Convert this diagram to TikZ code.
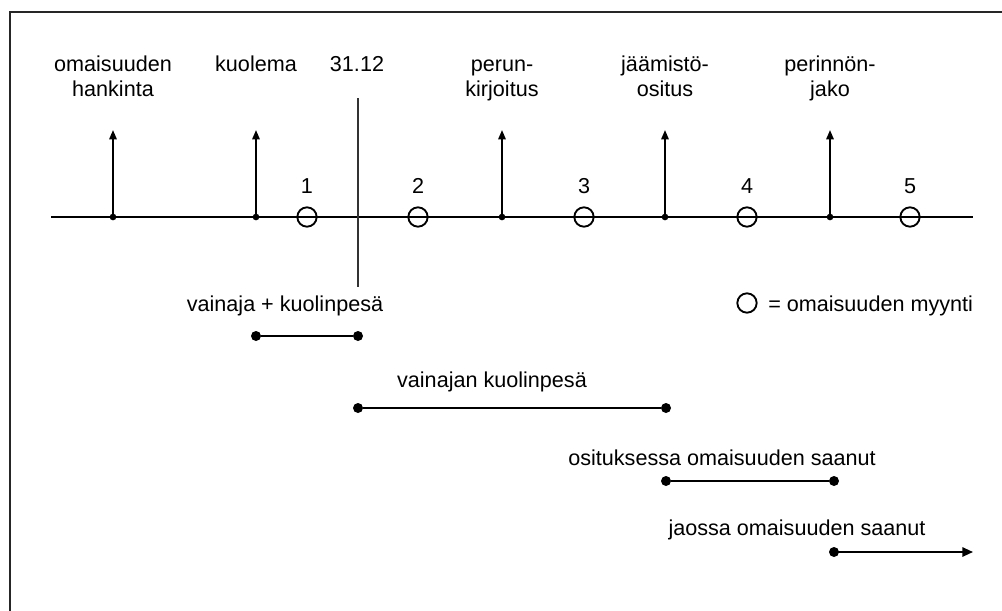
\documentclass[tikz,border=0pt]{standalone}
\usepackage{fontspec}
\setmainfont{Liberation Sans}
\usetikzlibrary{arrows.meta}
\newcommand{\lab}{\fontsize{16.2pt}{18.75pt}\selectfont}
\begin{document}
\begin{tikzpicture}[x=0.75pt, y=-0.75pt,
  lbl/.style={font=\lab, align=center, anchor=base, inner sep=0pt},
  lblw/.style={font=\lab, anchor=base west, inner sep=0pt},
  evdot/.style={circle, fill=black, inner sep=0pt, minimum size=5pt},
  enddot/.style={circle, fill=black, inner sep=0pt, minimum size=7.5pt},
  sale/.style={circle, draw=black, line width=1.4pt, inner sep=0pt, minimum size=14.5pt},
  timeline/.style={line width=2.2pt},
  uparrow/.style={line width=1.4pt, -{Triangle[length=7pt,width=5.5pt]}},
  span/.style={line width=1.4pt},
  spanarrow/.style={line width=1.4pt, -{Triangle[length=8pt,width=7pt]}},
  cutoff/.style={line width=0.8pt, black!80},
  frame/.style={line width=1.6pt, black!85}]
\useasboundingbox (0,0) rectangle (1002,610);
\fill[white] (0,0) rectangle (1002,610);

% frame (only top and left edges fall inside the page)
\coordinate (fbl) at (10,612);
\coordinate (ftl) at (10,12);
\coordinate (ftr) at (1004,12);
\draw[frame] (fbl) -- (ftl) -- (ftr);

% time axis
\coordinate (tlstart) at (51,217);
\coordinate (tlend) at (973,217);
\draw[timeline] (tlstart) -- (tlend);

% events on the axis
\foreach \n/\x in {1/113, 2/256, 3/502, 4/665, 5/830} {
  \node[evdot] (ev\n) at (\x,217) {};
  \coordinate (evtop\n) at (\x,130);
  \draw[uparrow] (ev\n.center) -- (evtop\n);
}
% two-line labels sit on the baseline of their last line
\node[lbl] (lab1) at (113,96) {omaisuuden\\hankinta};
\node[lbl] (lab2) at (256,71) {kuolema};
\node[lbl] (lab3) at (502,96) {perun-\\kirjoitus};
\node[lbl] (lab4) at (665,96) {jäämistö-\\ositus};
\node[lbl] (lab5) at (830,96) {perinnön-\\jako};

% year end
\node[lbl] (yearend) at (357,71) {31.12};
\coordinate (cuttop) at (358,98);
\coordinate (cutbot) at (358,287);
\draw[cutoff] (cuttop) -- (cutbot);

% sales of property
\foreach \n/\x in {1/307, 2/418, 3/584, 4/747, 5/910} {
  \node[sale] (s\n) at (\x,217) {};
  \node[lbl] (sn\n) at (\x,193) {\n};
}

% legend
\node[sale] (legcirc) at (747,303) {};
\node[lblw] (legtext) at (768,311) {= omaisuuden myynti};

% taxpayer periods
\node[lbl] (p1lab) at (285,311) {vainaja + kuolinpesä};
\node[enddot] (p1a) at (256,336) {};
\node[enddot] (p1b) at (358,336) {};
\draw[span] (p1a) -- (p1b);

\node[lbl] (p2lab) at (492,387) {vainajan kuolinpesä};
\node[enddot] (p2a) at (358,408) {};
\node[enddot] (p2b) at (666,408) {};
\draw[span] (p2a) -- (p2b);

\node[lbl] (p3lab) at (722,465) {osituksessa omaisuuden saanut};
\node[enddot] (p3a) at (666,481) {};
\node[enddot] (p3b) at (834,481) {};
\draw[span] (p3a) -- (p3b);

\node[lbl] (p4lab) at (797,535) {jaossa omaisuuden saanut};
\node[enddot] (p4a) at (834,552) {};
\coordinate (p4b) at (973,552);
\draw[spanarrow] (p4a.center) -- (p4b);
\end{tikzpicture}
\end{document}
